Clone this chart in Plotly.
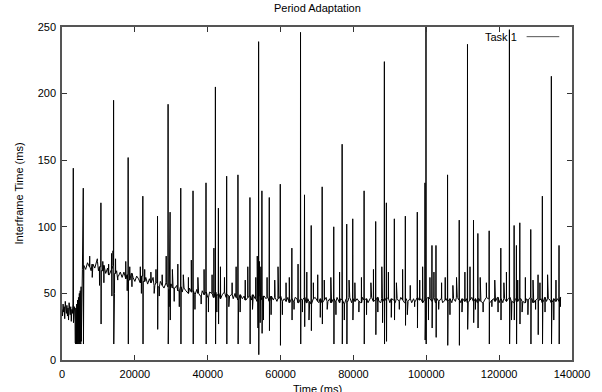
import plotly.graph_objects as go

# ---- data (time in ms, interframe time in ms) ----
early_t = [0, 150, 300, 450, 600, 750, 900, 1050, 1200, 1350, 1500, 1650, 1800, 1950,
           2100, 2250, 2400, 2550, 2700, 2850, 3000, 3150, 3300, 3450,
           3560, 3620, 3680, 3740, 3800, 3860, 3920, 3980, 4040, 4100, 4160, 4220,
           4280, 4340, 4400, 4460, 4520, 4580, 4640, 4700, 4760, 4820, 4880, 4940,
           5000, 5060, 5120, 5180, 5240, 5300, 5400, 5600]
early_v = [38, 33, 42, 36, 40, 31, 44, 37, 35, 41, 33, 39, 30, 43,
           36, 34, 40, 29, 38, 35, 42, 36, 33, 40,
           37, 13, 38, 12, 39, 13, 41, 12, 42, 13, 44, 12,
           45, 13, 46, 12, 47, 13, 48, 12, 50, 13, 51, 12,
           52, 13, 53, 12, 55, 14, 57, 68]

# baseline samples every 500 ms starting at 6000 ms
base_start = 6000
base_step = 500
baseline = [
    71, 68, 73, 70, 67, 72, 69, 74, 67, 70,
    67, 71, 65, 69, 64, 68, 71, 65, 67, 63,
    66, 62, 66, 61, 64, 60, 65, 62, 59, 63,
    61, 58, 63, 59, 62, 57, 61, 58, 62, 56,
    58, 55, 59, 56, 54, 58, 55, 53, 57, 54,
    54, 56, 52, 55, 51, 54, 52, 50, 54, 51,
    52, 49, 53, 50, 48, 52, 49, 51, 47, 51,
    50, 47, 51, 48, 50, 46, 49, 51, 47, 49,
    48, 49, 46, 50, 47, 45, 49, 46, 48, 45,
    47, 48, 45, 49, 46, 44, 48, 45, 47, 48,
    46, 47, 44, 48, 45, 47, 44, 46, 48, 44,
    46, 44, 47, 43, 46, 44, 47, 46, 43, 46,
    45, 47, 43, 46, 44, 42, 46, 47, 44, 43,
    46, 43, 45, 47, 44, 46, 43, 46, 44, 47,
    43, 46, 45, 42, 46, 44, 47, 43, 46, 44,
    46, 44, 43, 47, 45, 46, 43, 45, 47, 44,
    45, 47, 44, 43, 46, 44, 47, 46, 43, 46,
    45, 43, 46, 44, 47, 45, 43, 46, 44, 46,
    43, 46, 44, 47, 45, 46, 43, 45, 46, 47,
    46, 44, 47, 43, 46, 44, 46, 43, 45, 46,
    44, 46, 43, 46, 44, 47, 45, 43, 46, 44,
    46, 43, 45, 47, 44, 46, 43, 46, 44, 43,
    45, 47, 46, 43, 45, 46, 44, 47, 43, 46,
    43, 46, 44, 46, 47, 44, 43, 46, 44, 46,
    46, 44, 43, 46, 45, 47, 46, 43, 45, 46,
    45, 46, 43, 47, 44, 46, 45, 43, 46, 44,
    46, 44, 47,
]

# big spikes: time, peak value, following dip value
spike_t = [3100, 5840, 10680, 14160, 18160, 22190, 26220, 29120, 29670, 32600,
           35970, 39530, 42110, 42930, 45200, 48300, 51590, 53970, 54880, 56900,
           59920, 63100, 65480, 66570, 68410, 71420, 74600, 76900, 78160, 79810,
           82930, 86110, 88490, 89040, 91230, 94250, 97530, 99640, 99920, 101560,
           102660, 105840, 109040, 111310, 112960, 114160, 117260, 120460, 122820, 124110,
           124740, 125670, 128680, 130680, 131860, 134330, 136440]
spike_peak = [144, 129, 118, 195, 152, 123, 108, 192, 111, 129,
              127, 133, 205, 114, 138, 139, 122, 239, 127, 122,
              132, 84, 246, 124, 101, 130, 100, 162, 102, 106,
              127, 104, 224, 118, 106, 108, 111, 133, 255, 86,
              86, 139, 105, 237, 105, 95, 97, 84, 248, 101,
              86, 103, 98, 64, 123, 213, 86]
spike_dip = [28, 12, 27, 12, 12, 12, 23, 12, 30, 12,
             12, 12, 12, 27, 12, 12, 12, 4, 20, 22,
             11, 30, 12, 25, 22, 27, 12, 12, 12, 30,
             12, 19, 12, 14, 30, 26, 24, 15, 12, 24,
             17, 11, 11, 23, 28, 24, 12, 30, 12, 30,
             12, 27, 12, 19, 12, 12, 12]

# medium-size excursions
mid_t = [7600, 8300, 9700, 10300, 11200, 11500, 12800, 13600, 13700, 14000, 14400, 14700,
         15300, 17500, 17900, 18600, 19200, 21500, 21800, 22700, 24400, 25300, 25800,
         26700, 27500, 28600, 29400, 30300, 30800,
         31800, 32200, 33300, 34700, 35500, 36500, 37300, 38200, 39000, 40200, 41200,
         41700, 42500, 43500, 44600, 45800, 46700, 47800, 48900, 50300, 51000, 52300,
         53200, 53600, 53800, 54200, 54400, 54600, 55300, 56300, 57400, 58400, 59300,
         60500, 61500,
         62400, 63700, 64800, 66000, 67200, 67800, 69000, 70200, 70900, 72000, 72800,
         73800, 75200, 76200, 77500, 78800, 80400, 81500, 82200, 83600, 84800, 85500,
         86700, 87800, 88000, 89600, 90400, 91800, 92600,
         93500, 94800, 95600, 96800, 98200, 99000, 100600, 101000, 102100, 103400,
         104200, 105200, 106500, 107300, 108300, 109800, 110600, 112000, 113500, 114800,
         115600, 116500, 118000, 118800, 119700, 121300, 122000, 123400, 125100, 126300,
         127200, 127900, 129300, 130000, 131200, 132600, 133300, 135000, 135600, 136800]
mid_v = [78, 62, 76, 56, 74, 58, 72, 80, 48, 82, 50, 76,
         60, 74, 52, 70, 55, 70, 50, 68, 66, 50, 68,
         48, 64, 78, 40, 68, 44,
         72, 40, 64, 62, 75, 38, 62, 42, 68, 36, 64,
         84, 36, 70, 62, 40, 58, 70, 36, 60, 70, 38,
         62, 78, 24, 74, 28, 70, 30, 62, 34, 60, 70,
         34, 58,
         62, 38, 72, 36, 66, 30, 58, 64, 32, 60, 38,
         62, 34, 66, 30, 60, 58, 36, 62, 34, 58, 68,
         36, 70, 28, 66, 32, 58, 38,
         68, 34, 56, 40, 60, 70, 30, 62, 66, 38,
         58, 62, 34, 56, 62, 36, 66, 70, 38, 62,
         36, 58, 40, 60, 36, 58, 66, 30, 60, 36,
         62, 34, 60, 38, 58, 36, 64, 30, 60, 40]

x_ticks = [0, 20000, 40000, 60000, 80000, 100000, 120000, 140000]
y_ticks = [0, 50, 100, 150, 200, 250]

# ---- assemble the series ----
def nearest_base(t):
    """Value of the nearest read baseline sample (early list or 500 ms list)."""
    if t < base_start:
        i = min(range(len(early_t)), key=lambda k: abs(early_t[k] - t))
        return early_v[i]
    i = int(round((t - base_start) / base_step))
    i = max(0, min(len(baseline) - 1, i))
    return baseline[i]

pts = list(zip(early_t, early_v))
pts += [(base_start + i * base_step, v) for i, v in enumerate(baseline)]
for t, p, d in zip(spike_t, spike_peak, spike_dip):
    if t > base_start:
        pts.append((t - 40, nearest_base(t - 40)))
    pts.append((t, p))
    pts.append((t + 50, d))
    if t > base_start:
        pts.append((t + 100, nearest_base(t + 100)))
for t, v in zip(mid_t, mid_v):
    pts.append((t - 40, nearest_base(t - 40)))
    pts.append((t, v))
    pts.append((t + 40, nearest_base(t + 40)))
pts.sort(key=lambda a: a[0])
xs = [a[0] for a in pts]
ys = [a[1] for a in pts]

FONT = "Liberation Sans, Arial, Helvetica, sans-serif"

fig = go.Figure()
fig.add_trace(go.Scatter(x=xs, y=ys, mode="lines",
                         line=dict(color="black", width=1),
                         name="Task 1", showlegend=False, hoverinfo="skip"))

axis_common = dict(showgrid=False, zeroline=False, showline=True, linecolor="#555555",
                   linewidth=1.5, mirror="ticks", ticks="inside", ticklen=5,
                   tickcolor="#333333", tickwidth=1,
                   tickfont=dict(family=FONT, size=11, color="black"))
fig.update_xaxes(range=[0, 140000], tickvals=x_ticks, ticklabelstandoff=3,
                 ticktext=[str(v) for v in x_ticks], **axis_common)
fig.update_yaxes(range=[0, 250], tickvals=y_ticks, ticklabelstandoff=2,
                 ticktext=[str(v) for v in y_ticks], **axis_common)

fig.update_layout(
    width=602, height=392,
    margin=dict(l=62, r=30, t=27, b=24, pad=0),
    plot_bgcolor="white", paper_bgcolor="white",
    showlegend=False,
    annotations=[
        dict(text="Period Adaptation", xref="paper", yref="paper", x=0.5, y=1,
             yanchor="bottom", yshift=11, showarrow=False,
             font=dict(family=FONT, size=11, color="black")),
        dict(text="Time (ms)", xref="paper", yref="paper", x=0.5, y=0,
             yanchor="top", yshift=-21, showarrow=False,
             font=dict(family=FONT, size=11, color="black")),
        dict(text="Interframe Time (ms)", xref="paper", yref="paper", x=0, y=0.5,
             xanchor="center", xshift=-44, textangle=-90, showarrow=False,
             font=dict(family=FONT, size=11, color="black")),
        dict(text="Task 1", xref="paper", yref="paper", x=0.896, y=0.971,
             xanchor="right", yanchor="middle", showarrow=False,
             font=dict(family=FONT, size=11, color="black")),
    ],
    shapes=[dict(type="line", xref="paper", yref="paper", x0=0.911, x1=0.975,
                 y0=0.971, y1=0.971, line=dict(color="#555555", width=1))],
)

fig.write_html("out.html")
